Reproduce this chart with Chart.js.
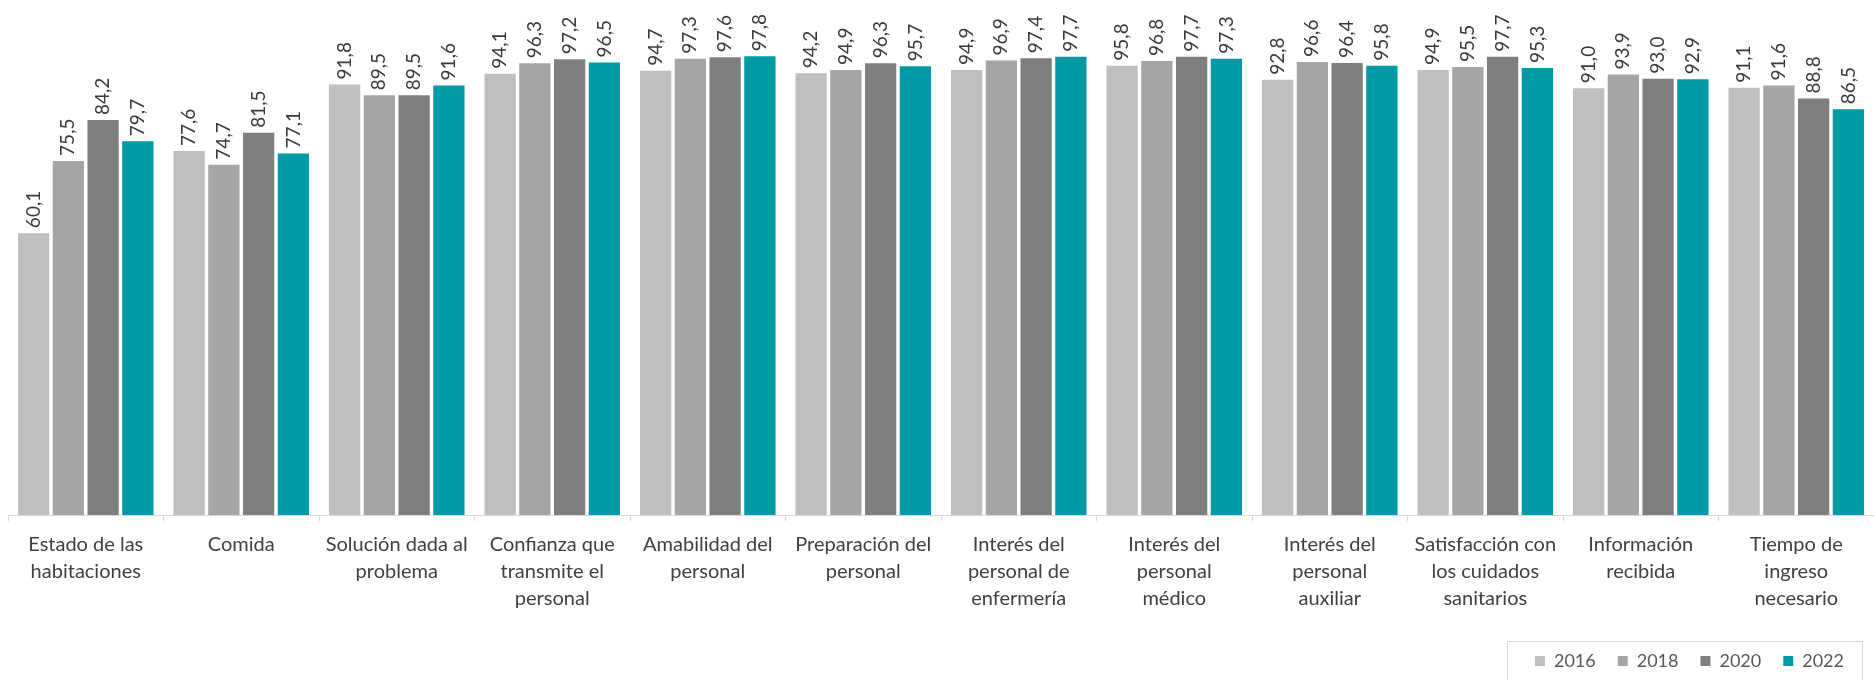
<!DOCTYPE html>
<html>
<head>
<meta charset="utf-8">
<script src="https://cdn.jsdelivr.net/npm/chart.js@4.4.1/dist/chart.umd.min.js"></script>
<style>
html,body{margin:0;padding:0;background:#fff;}
#wrap{width:1874px;height:680px;}
</style>
</head>
<body>
<div id="wrap"><canvas id="c" width="1874" height="680"></canvas></div>
<script>
const categories = [
  ["Estado de las","habitaciones"],
  ["Comida"],
  ["Solución dada al","problema"],
  ["Confianza que","transmite el","personal"],
  ["Amabilidad del","personal"],
  ["Preparación del","personal"],
  ["Interés del","personal de","enfermería"],
  ["Interés del","personal","médico"],
  ["Interés del","personal","auxiliar"],
  ["Satisfacción con","los cuidados","sanitarios"],
  ["Información","recibida"],
  ["Tiempo de","ingreso","necesario"]
];
const seriesNames = ["2016","2018","2020","2022"];
const v2016 = [60.1, 77.6, 91.8, 94.1, 94.7, 94.2, 94.9, 95.8, 92.8, 94.9, 91.0, 91.1];
const v2018 = [75.5, 74.7, 89.5, 96.3, 97.3, 94.9, 96.9, 96.8, 96.6, 95.5, 93.9, 91.6];
const v2020 = [84.2, 81.5, 89.5, 97.2, 97.6, 96.3, 97.4, 97.7, 96.4, 97.7, 93.0, 88.8];
const v2022 = [79.7, 77.1, 91.6, 96.5, 97.8, 95.7, 97.7, 97.3, 95.8, 95.3, 92.9, 86.5];
const colors = ["#BFBFBF","#A5A5A5","#7F7F7F","#0099A6"];
const FONT = "Lato, 'Open Sans', sans-serif";

const valueLabels = {
  id: 'valueLabels',
  afterDatasetsDraw(chart) {
    const ctx = chart.ctx;
    ctx.save();
    ctx.font = "19px " + FONT;
    ctx.fillStyle = "#3A3A3A";
    ctx.textAlign = "left";
    ctx.textBaseline = "middle";
    chart.data.datasets.forEach((ds, di) => {
      const meta = chart.getDatasetMeta(di);
      meta.data.forEach((bar, i) => {
        const txt = ds.data[i].toFixed(1).replace('.', ',');
        ctx.save();
        ctx.translate(bar.x, bar.y - 5);
        ctx.rotate(-Math.PI / 2);
        ctx.fillText(txt, 0, 0);
        ctx.restore();
      });
    });
    ctx.restore();
  }
};

const LEGEND_SHIFT = 8;
const legendBorder = {
  id: 'legendBorder',
  beforeDraw(chart) {
    const lg = chart.legend;
    if (!lg || lg._shifted) return;
    lg.left -= LEGEND_SHIFT;
    lg.right -= LEGEND_SHIFT;
    lg._shifted = true;
  },
  afterDraw(chart) {
    const lg = chart.legend;
    if (!lg || !lg.legendHitBoxes || !lg.legendHitBoxes.length) return;
    const hb = lg.legendHitBoxes;
    let l = Infinity, r = -Infinity, t = Infinity, b = -Infinity;
    hb.forEach(h => { l = Math.min(l, h.left); r = Math.max(r, h.left + h.width); t = Math.min(t, h.top); b = Math.max(b, h.top + h.height); });
    const ctx = chart.ctx;
    ctx.save();
    ctx.strokeStyle = "#D9D9D9";
    ctx.lineWidth = 1;
    ctx.strokeRect(Math.round(l - 28 - LEGEND_SHIFT) + 0.5, Math.round(t - 11) + 0.5, Math.round(r - l + 46), Math.round(b - t + 22));
    ctx.restore();
  }
};

new Chart(document.getElementById('c'), {
  type: 'bar',
  data: {
    labels: categories,
    datasets: [v2016, v2018, v2020, v2022].map((d, i) => ({
      label: seriesNames[i],
      data: d,
      backgroundColor: colors[i],
      borderWidth: 0,
      barPercentage: 0.9,
      categoryPercentage: 0.894
    }))
  },
  options: {
    responsive: false,
    devicePixelRatio: 1,
    animation: false,
    layout: { padding: { top: 46, left: 8, right: 0, bottom: 0 } },
    plugins: {
      tooltip: { enabled: false },
      legend: {
        position: 'bottom',
        align: 'end',
        labels: {
          boxWidth: 10, boxHeight: 10, padding: 22,
          color: "#595959",
          font: { size: 18, family: FONT }
        }
      }
    },
    scales: {
      y: { display: false, min: 0, max: 100 },
      x: {
        offset: true,
        afterFit(scale) { scale.height += 8; },
        grid: { display: true, drawOnChartArea: false, drawTicks: true, tickLength: 6, color: "#D9D9D9", offset: true },
        border: { display: true, color: "#D9D9D9" },
        ticks: {
          color: "#404040",
          maxRotation: 0, autoSkip: false,
          padding: 10,
          font: { size: 20, family: FONT, lineHeight: 1.35 }
        }
      }
    }
  },
  plugins: [valueLabels, legendBorder]
});
</script>
</body>
</html>
